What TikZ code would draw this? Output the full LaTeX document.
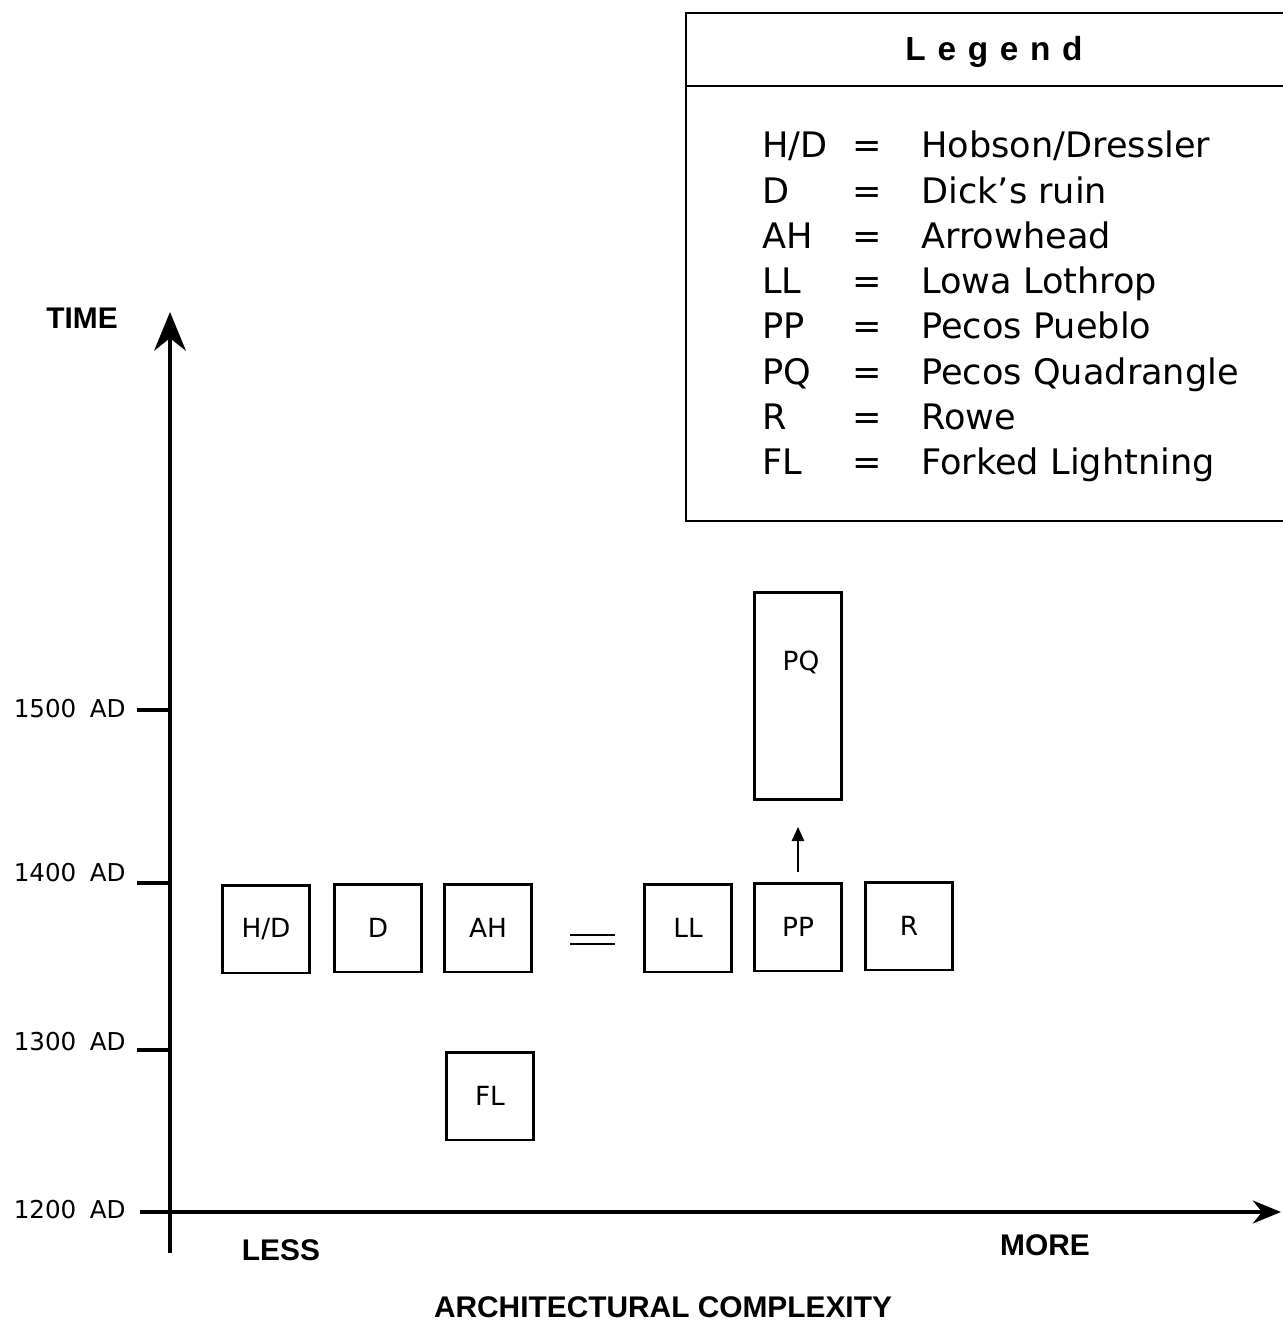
\documentclass[tikz,border=0pt]{standalone}
\usepackage{fontspec}
\setmainfont{DejaVu Sans}
\newfontfamily\heavy{Liberation Sans}
\newfontfamily\spaced{Liberation Sans}[LetterSpace=35]
\usetikzlibrary{arrows.meta,positioning}
\tikzset{site/.style={draw,line width=1.7pt,minimum width=1.74cm,minimum height=1.76cm,inner sep=0pt,font=\fontsize{15}{18}\selectfont},
axis/.style={line width=2.3pt},arr/.style={-{Triangle[length=8pt,width=7pt]},line width=1.1pt},
yr/.style={anchor=east,inner sep=0pt,font=\fontsize{14}{16}\selectfont},big/.style={font=\heavy\bfseries\fontsize{17}{20}\selectfont},
leg/.style={anchor=base west,inner sep=0pt,font=\fontsize{20}{24}\selectfont},legeq/.style={anchor=base,inner sep=0pt,font=\fontsize{20}{24}\selectfont}}
\begin{document}
\begin{tikzpicture}[x=0.02cm,y=-0.02cm]
\useasboundingbox(0,0)rectangle(1282,1324);
\coordinate(ybot)at(170,1253);\coordinate(ytop)at(170,312);
\coordinate(xleft)at(140,1212);\coordinate(xright)at(1281,1212);
\draw[axis,-{Stealth[length=22pt,width=18pt]}](ybot)--(ytop);
\draw[axis,-{Stealth[length=16pt,width=13pt]}](xleft)--(xright);
\foreach\yy in{710,883,1050}\draw[axis](137,\yy)--(170,\yy);
\foreach\yr/\ly in{1500/709,1400/873,1300/1042,1200/1210}\node[yr](t\yr)at(126,\ly){\yr\hspace{0.55em}AD};
\node[big](time)at(82,318){TIME};\node[big](less)at(281,1250){LESS};\node[big](more)at(1045,1245){MORE};
\node[big](xlab)at(663,1307){ARCHITECTURAL COMPLEXITY};
\node[site](hd)at(266,929){H/D};\node[site](d)at(378,928){D};\node[site](ah)at(488,928){AH};
\node[site](ll)at(688,928){LL};\node[site](pp)at(798,927){PP};\node[site](r)at(909,926){R};
\node[site](fl)at(490,1096){FL};
\node[site,minimum height=4.14cm](pq)at(798,696){};\node[font=\fontsize{15}{18}\selectfont](pqlab)at(801,662){PQ};
\draw[arr,shorten <=0.2cm,shorten >=0.52cm](pp)--(pq);
\draw[line width=1pt](570,935)--(615,935)(570,944)--(615,944);
\node[draw,line width=1.1pt,anchor=north west,minimum width=12.4cm,minimum height=10.16cm,inner sep=0pt](legend)at(685,12){};
\node[font=\spaced\bfseries\fontsize{19}{22}\selectfont](legtitle)at(994,52){Legend};
\coordinate(hdr)at(685,86);\draw[line width=1.1pt](hdr)--(hdr-|legend.east);
\node[leg](ab1)at(762,158){H/D};\node[legeq](eq1)at(867,158){=};\node[leg](nm1)at(921,158){Hobson/Dressler};
\foreach\ab/\nm[count=\i from 2]in{D/Dick's ruin,AH/Arrowhead,LL/Lowa Lothrop,PP/Pecos Pueblo,PQ/Pecos Quadrangle,R/Rowe,FL/Forked Lightning}{
\node[leg](ab\i)at(762,{158+45.2*(\i-1)}){\ab};\node[legeq](eq\i)at(867,{158+45.2*(\i-1)}){=};\node[leg](nm\i)at(921,{158+45.2*(\i-1)}){\nm};}
\end{tikzpicture}
\end{document}
